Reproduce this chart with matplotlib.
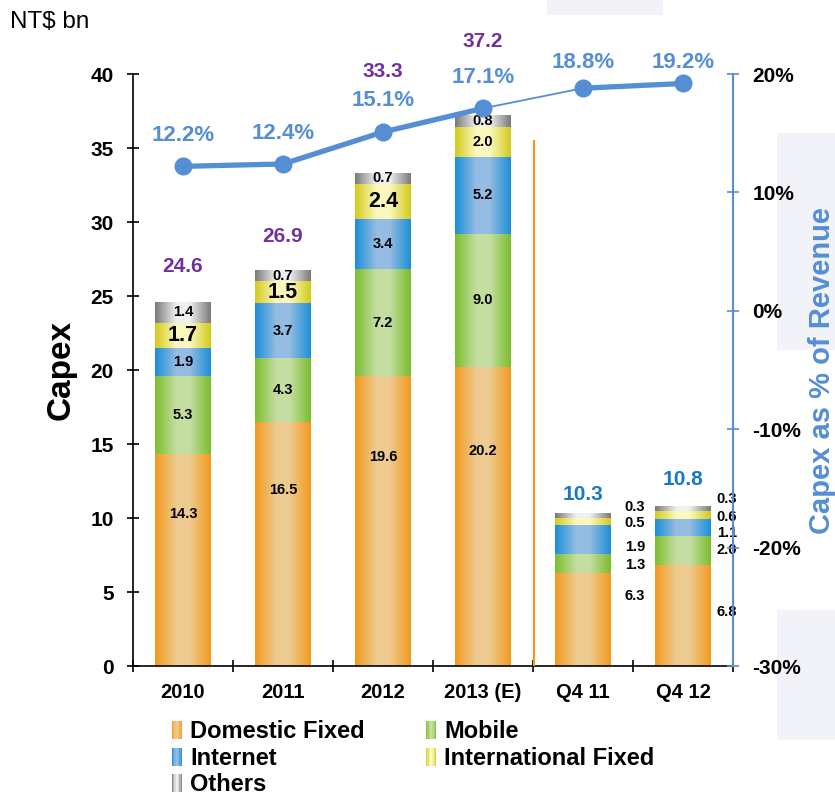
import numpy as np
import matplotlib
matplotlib.use("Agg")
from matplotlib import pyplot as plt
from matplotlib.colors import LinearSegmentedColormap
from matplotlib.legend_handler import HandlerBase
from matplotlib.patches import Rectangle, Patch

plt.rcParams['font.family'] = ['Liberation Sans', 'DejaVu Sans']

categories = ['2010', '2011', '2012', '2013 (E)', 'Q4 11', 'Q4 12']
domestic = [14.3, 16.5, 19.6, 20.2, 6.3, 6.8]
mobile = [5.3, 4.3, 7.2, 9.0, 1.3, 2.0]
internet = [1.9, 3.7, 3.4, 5.2, 1.9, 1.1]
intl = [1.7, 1.5, 2.4, 2.0, 0.5, 0.6]
others = [1.4, 0.7, 0.7, 0.8, 0.3, 0.3]
totals = [24.6, 26.9, 33.3, 37.2, 10.3, 10.8]
capex_pct = [12.2, 12.4, 15.1, 17.1, 18.8, 19.2]

series = [
    ('Domestic Fixed', domestic, '#F39A1E', '#EDCB90'),
    ('Mobile', mobile, '#7CBD2E', '#C4DEA2'),
    ('Internet', internet, '#1B8FD6', '#95BCE3'),
    ('International Fixed', intl, '#D3CB1C', '#FBF8BC'),
    ('Others', others, '#7A7A7A', '#F0F0F0'),
]

BLUE = '#558ED5'
PURPLE = '#7030A0'
WIDTH = 0.56
W, H = 835, 795


def grad_cmap(edge, light):
    return LinearSegmentedColormap.from_list(
        'g', [(0, edge), (0.38, light), (0.62, light), (1, edge)])


grad = np.linspace(0, 1, 128).reshape(1, -1)

fig = plt.figure(figsize=(W / 100, H / 100), dpi=100)

# faint watermark blocks behind the chart
for x0, y0, x1, y1 in [(777, 133, 835, 350), (777, 610, 835, 740), (547, 0, 663, 15)]:
    fig.patches.append(Rectangle((x0 / W, 1 - y1 / H), (x1 - x0) / W, (y1 - y0) / H,
                                 transform=fig.transFigure, facecolor='#F1F3F9',
                                 edgecolor='none', zorder=-5))

ax = fig.add_axes([133 / W, 1 - 666 / H, 600 / W, 592 / H])
ax.patch.set_alpha(0)

x = np.arange(len(categories))
bottom = np.zeros(len(categories))
for name, vals, edge, light in series:
    cmap = grad_cmap(edge, light)
    for i, v in enumerate(vals):
        ax.imshow(grad, extent=[x[i] - WIDTH / 2, x[i] + WIDTH / 2, bottom[i], bottom[i] + v],
                  aspect='auto', cmap=cmap, interpolation='bilinear', zorder=2)
    bottom = bottom + np.array(vals)

ax.set_xlim(-0.5, 5.5)
ax.set_ylim(0, 40)

# in-bar labels for the annual bars
small = dict(ha='center', va='center', fontsize=10.5, fontweight='bold', zorder=5)
for i in range(4):
    ax.text(x[i], domestic[i] * 0.72, f'{domestic[i]:.1f}', **small)
    b = domestic[i]
    ax.text(x[i], b + mobile[i] / 2, f'{mobile[i]:.1f}', **small)
    b += mobile[i]
    ax.text(x[i], b + internet[i] / 2, f'{internet[i]:.1f}', **small)
    b += internet[i]
    fs = 10.5 if i == 3 else 15.5
    ax.text(x[i], b + intl[i] / 2, f'{intl[i]:.1f}', ha='center', va='center',
            fontsize=fs, fontweight='bold', zorder=5)
    b += intl[i]
    ax.text(x[i], b + others[i] / 2, f'{others[i]:.1f}', **small)

# side labels for the quarterly bars
q4_label_y = {4: [10.74, 9.66, 8.04, 6.82, 4.73], 5: [11.28, 10.07, 8.99, 7.84, 3.65]}
q4_label_x = {4: 4.52, 5: 5.44}
for i, ys in q4_label_y.items():
    vals = [others[i], intl[i], internet[i], mobile[i], domestic[i]]
    for v, yy in zip(vals, ys):
        ax.text(q4_label_x[i], yy, f'{v:.1f}', ha='center', va='center',
                fontsize=10.5, fontweight='bold', zorder=5)

# totals
total_y = [27.0, 29.0, 40.2, 42.2, 11.6, 12.6]
for i, t in enumerate(totals):
    col = PURPLE if i < 4 else '#1878C8'
    ax.text(x[i], total_y[i], f'{t:.1f}', ha='center', va='center', fontsize=15,
            fontweight='bold', color=col, zorder=5, clip_on=False)

# divider between annual and quarterly figures
ax.plot([3.51, 3.51], [0, 35.5], color='#F7941D', lw=1.5, zorder=3)

ax.set_xticks(x)
ax.set_xticklabels(categories, fontsize=14.5, fontweight='bold')
ax.set_xticks(np.arange(-0.5, 5.6, 1), minor=True)
ax.tick_params(axis='x', which='major', length=0, pad=12)
ax.tick_params(axis='x', which='minor', length=8, direction='inout', width=1.2)
ax.set_yticks(np.arange(0, 41, 5))
ax.set_yticklabels([str(v) for v in range(0, 41, 5)], fontsize=15, fontweight='bold')
ax.tick_params(axis='y', length=8, direction='inout', width=1.2, pad=10)
ax.spines['top'].set_visible(False)
ax.spines['right'].set_visible(False)
ax.spines['left'].set_linewidth(1.2)
ax.spines['bottom'].set_linewidth(1.2)
ax.set_ylabel('Capex', fontsize=24, fontweight='bold', labelpad=10)

ax2 = ax.twinx()
ax2.patch.set_alpha(0)
ax2.set_ylim(-30, 20)
ax2.plot(x[:4], capex_pct[:4], color=BLUE, lw=3.8, marker='o', ms=12, zorder=4)
ax2.plot(x[3:5], capex_pct[3:5], color=BLUE, lw=1.3, zorder=4)
ax2.plot(x[4:], capex_pct[4:], color=BLUE, lw=3.8, marker='o', ms=12, zorder=4)
pct_y = [14.8, 15.0, 17.8, 19.7, 21.0, 21.0]
for i, p in enumerate(capex_pct):
    ax2.text(x[i], pct_y[i], f'{p:.1f}%', ha='center', va='center', fontsize=16,
             fontweight='bold', color=BLUE, clip_on=False)
ax2.set_yticks(np.arange(-30, 21, 10))
ax2.set_yticklabels([f'{v}%' for v in range(-30, 21, 10)], fontsize=15, fontweight='bold')
ax2.tick_params(axis='y', length=8, direction='inout', width=1.2, color=BLUE, pad=10)
for s in ['top', 'left', 'bottom']:
    ax2.spines[s].set_visible(False)
ax2.spines['right'].set_color(BLUE)
ax2.spines['right'].set_linewidth(1.5)
ax2.set_ylabel('Capex as % of Revenue', fontsize=21, fontweight='bold', color=BLUE)
ax2.yaxis.set_label_coords(1.125, 0.5)

fig.text(10 / W, 1 - 22 / H, 'NT$ bn', fontsize=17.5, va='center')


class GradHandler(HandlerBase):
    def __init__(self, edge, light):
        super().__init__()
        self.cmap = grad_cmap(edge, light)

    def create_artists(self, legend, orig_handle, xdescent, ydescent, width, height, fontsize, trans):
        n = 8
        w = width
        arts = []
        for k in range(n):
            arts.append(Rectangle((k * w / n - xdescent, -ydescent), w / n + 0.2, height,
                                  facecolor=self.cmap((k + 0.5) / n), edgecolor='none', transform=trans))
        return arts


handles = [Patch(label=name) for name, _, _, _ in series]
handler_map = {h: GradHandler(edge, light) for h, (_, _, edge, light) in zip(handles, series)}
order = [0, 2, 4, 1, 3]
fig.legend([handles[k] for k in order], [series[k][0] for k in order],
           handler_map={handles[k]: handler_map[handles[k]] for k in order},
           loc='upper left', bbox_to_anchor=(172 / W, 0.094), ncol=2, frameon=False,
           prop={'size': 17, 'weight': 'bold'}, handlelength=0.42, handleheight=0.8,
           handletextpad=0.35, labelspacing=0.15, columnspacing=2.6, borderpad=0,
           borderaxespad=0)

fig.savefig('out.png', dpi=100)
